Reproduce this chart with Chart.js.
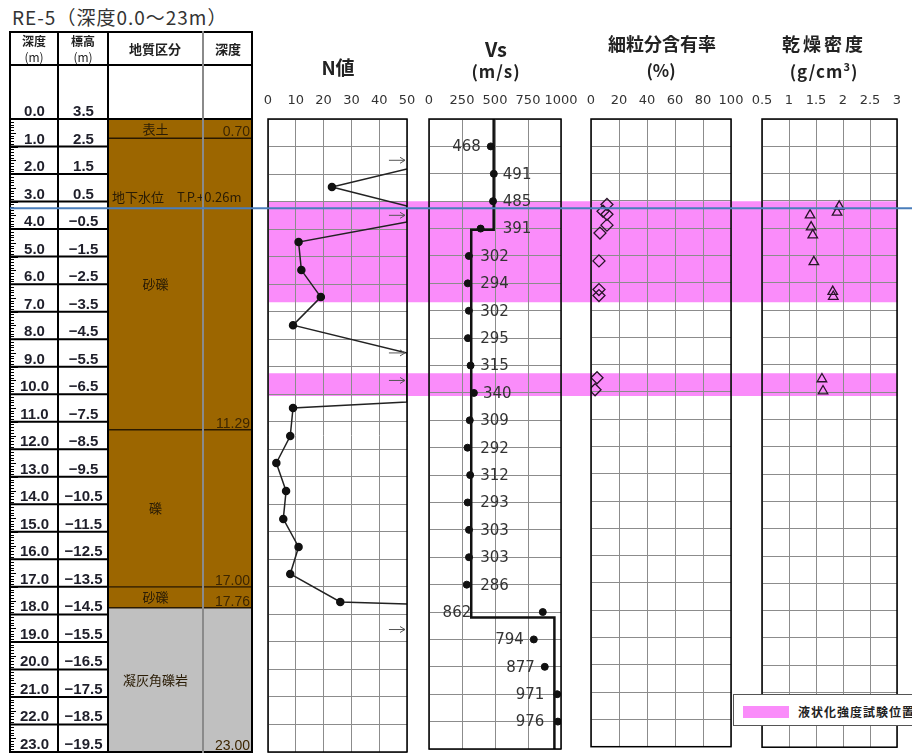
<!DOCTYPE html>
<html>
<head>
<meta charset="utf-8">
<script src="https://cdn.jsdelivr.net/npm/chart.js@4.4.1/dist/chart.umd.min.js"></script>
<style>
body{margin:0;width:912px;height:754px;overflow:hidden;position:relative;background:#fff;font-family:"Noto Sans CJK JP",sans-serif;color:#222;}
canvas{position:absolute;}
.ln{position:absolute;background:#000;}
.tx{position:absolute;transform:translate(-50%,-50%);white-space:nowrap;line-height:1;font-weight:bold;}
#legend{position:absolute;left:733px;top:694px;width:200px;height:32px;border:1px solid #555;background:#fff;box-sizing:border-box;}
#legend .sw{position:absolute;left:9px;top:11px;width:46px;height:12px;background:#fa8cfa;}
#legend .lb{position:absolute;left:64px;top:8px;font-size:12px;font-weight:bold;letter-spacing:1px;white-space:nowrap;}
</style>
</head>
<body>
<div style="position:absolute;left:12px;top:3px;font-size:19px;letter-spacing:1px;color:#333;">RE-5（深度0.0～23m）</div>

<canvas id="bands"></canvas>
<canvas id="table"></canvas>
<canvas id="geo"></canvas>
<canvas id="nChart"></canvas>
<canvas id="vsChart"></canvas>
<canvas id="fcChart"></canvas>
<canvas id="rhoChart"></canvas>

<!-- table frame -->
<div class="ln" style="left:10px;top:31px;width:243px;height:2px"></div>
<div class="ln" style="left:10px;top:64px;width:243px;height:1.5px"></div>
<div class="ln" style="left:108px;top:118px;width:145px;height:2px"></div>
<div class="ln" style="left:10px;top:751px;width:243px;height:2px"></div>
<div class="ln" style="left:9px;top:31px;width:2px;height:722px"></div>
<div class="ln" style="left:57px;top:31px;width:2px;height:722px"></div>
<div class="ln" style="left:107px;top:31px;width:2px;height:722px"></div>
<div class="ln" style="left:202px;top:31px;width:2px;height:722px;background:#8a8a8a"></div>
<div class="ln" style="left:251px;top:31px;width:2px;height:722px"></div>

<div class="tx" style="left:34px;top:41px;font-size:12px;">深度</div>
<div class="tx" style="left:34px;top:57px;font-size:12px;font-weight:normal;">(m)</div>
<div class="tx" style="left:83px;top:41px;font-size:12px;">標高</div>
<div class="tx" style="left:83px;top:57px;font-size:12px;font-weight:normal;">(m)</div>
<div class="tx" style="left:155px;top:48px;font-size:13px;">地質区分</div>
<div class="tx" style="left:228px;top:48px;font-size:13px;">深度</div>

<div class="tx" style="left:338px;top:66px;font-size:19px;">N値</div>
<div class="tx" style="left:496px;top:49px;font-size:20px;">Vs</div>
<div class="tx" style="left:496px;top:70px;font-size:17px;letter-spacing:1px;">(m/s)</div>
<div class="tx" style="left:662px;top:43px;font-size:18px;">細粒分含有率</div>
<div class="tx" style="left:661px;top:69px;font-size:17px;">(%)</div>
<div class="tx" style="left:824px;top:43px;font-size:18px;letter-spacing:3px;">乾燥密度</div>
<div class="tx" style="left:824px;top:70px;font-size:17px;letter-spacing:1px;">(g/cm<sup style="font-size:11px">3</sup>)</div>

<canvas id="gw"></canvas>

<div id="legend"><div class="sw"></div><div class="lb">液状化強度試験位置</div></div>

<script>
// ---- data ----
const rowDepths = [0,1,2,3,4,5,6,7,8,9,10,11,12,13,14,15,16,17,18,19,20,21,22,23];
const depthLabels = ['0.0','1.0','2.0','3.0','4.0','5.0','6.0','7.0','8.0','9.0','10.0','11.0','12.0','13.0','14.0','15.0','16.0','17.0','18.0','19.0','20.0','21.0','22.0','23.0'];
const elevLabels = ['3.5','2.5','1.5','0.5','−0.5','−1.5','−2.5','−3.5','−4.5','−5.5','−6.5','−7.5','−8.5','−9.5','−10.5','−11.5','−12.5','−13.5','−14.5','−15.5','−16.5','−17.5','−18.5','−19.5'];

const layerNames = ['表土','砂礫','礫','砂礫','凝灰角礫岩'];
const layerTop = [0, 0.70, 11.29, 17.00, 17.76];
const layerBottom = [0.70, 11.29, 17.00, 17.76, 23.00];
const layerColors = ['#9c6600','#9c6600','#9c6600','#9c6600','#c0c0c0'];

const surfaceElev = 3.5;
const gwElev = 0.26;

const bandTop = [3.0, 9.25];
const bandBottom = [6.65, 10.05];

const nDepth = [1.82, 2.47, 3.16, 3.74, 4.47, 5.49, 6.47, 7.49, 8.50, 10.28, 10.50, 11.52, 12.50, 13.52, 14.53, 15.55, 16.53, 17.55, 17.62];
const nValue = [50, 23, 50, 50, 11, 12, 19, 9, 50, 50, 9, 8, 3, 6.5, 5.5, 11, 8, 26, 50];
const nArrowDepth = [1.5, 3.5, 8.5, 9.5, 18.55];

const vsDepth = [1,2,3,4,5,6,7,8,9,10,11,12,13,14,15,16,17,18,19,20,21,22];
const vsValue = [468,491,485,391,302,294,302,295,315,340,309,292,312,293,303,303,286,862,794,877,971,976];
const vsLayerTop = [0, 4.04, 18.2];
const vsLayerVs = [490, 320, 950];

const fcDepth = [3.13, 3.38, 3.49, 3.89, 4.18, 5.2, 6.25, 6.47, 9.48, 9.92];
const fcValue = [11.4, 8.6, 11.4, 11.4, 6.4, 5.7, 5.7, 5.7, 4.3, 2.9];

const rhoDepth = [3.2, 3.42, 3.52, 3.96, 4.25, 5.23, 6.32, 6.5, 9.52, 9.96];
const rhoValue = [1.93, 1.89, 1.39, 1.41, 1.44, 1.46, 1.81, 1.82, 1.61, 1.63];

const nTicks = [0,10,20,30,40,50];
const vsTicks = [0,250,500,750,1000];
const fcTicks = [0,20,40,60,80,100];
const rhoTicks = [0.5,1,1.5,2,2.5,3];

// ---- layout ----
const TOP = 119, BOTTOM = 752, MAXD = 23;
const PXM = (BOTTOM - TOP) / MAXD;
const AXIS_H = 30, PAD = 32;
const GRID = '#8c8c8c';
const pink = '#fa8cfa';

function place(id, left, top, w, h) {
  const cv = document.getElementById(id);
  cv.width = w; cv.height = h;
  cv.style.left = left + 'px'; cv.style.top = top + 'px';
  return cv;
}
const base = {responsive:false, animation:false, events:[], plugins:{legend:{display:false}, tooltip:{enabled:false}}};

const framePlugin = {
  id:'frame',
  afterDraw(c) {
    const a = c.chartArea, ctx = c.ctx;
    ctx.save();
    ctx.strokeStyle = '#000'; ctx.lineWidth = 1.5;
    ctx.strokeRect(a.left, a.top, a.right - a.left, a.bottom - a.top);
    ctx.restore();
  }
};

function panel(id, left, right, xMin, xMax, ticks, datasets, extra) {
  const cv = place(id, left - PAD, TOP - AXIS_H, right - left + 2 * PAD, AXIS_H + (BOTTOM - TOP) + 2);
  return new Chart(cv, {
    type:'scatter',
    data:{datasets},
    options:Object.assign({}, base, {
      layout:{padding:{left:PAD, right:PAD, top:0, bottom:2}},
      scales:{
        x:{type:'linear', position:'top', min:xMin, max:xMax,
           afterFit:s => { s.height = AXIS_H; },
           afterBuildTicks:s => { s.ticks = ticks.map(v => ({value:v})); },
           ticks:{padding:11, color:'#333', font:{family:'DejaVu Sans', size:13}, maxRotation:0, autoSkip:false, callback:v => String(v)},
           grid:{color:GRID, lineWidth:1, drawTicks:false},
           border:{display:false}},
        y:{type:'linear', reverse:true, min:0, max:MAXD,
           afterFit:s => { s.width = 0; },
           afterBuildTicks:s => { s.ticks = rowDepths.map(v => ({value:v})); },
           ticks:{display:false},
           grid:{color:GRID, lineWidth:1, drawTicks:false},
           border:{display:false}}
      }
    }),
    plugins:[framePlugin].concat(extra || [])
  });
}

// liquefaction test bands (behind the panels)
new Chart(place('bands', 268, TOP, 629, BOTTOM - TOP), {
  type:'bar',
  data:{labels:[''], datasets: bandTop.map((t, i) => ({
    data:[[t, bandBottom[i]]], backgroundColor:pink, borderWidth:0,
    grouped:false, barPercentage:1, categoryPercentage:1
  }))},
  options:Object.assign({}, base, {
    layout:{padding:0},
    scales:{x:{display:false}, y:{display:false, reverse:true, min:0, max:MAXD}}
  })
});

// depth / elevation columns
const tableTopPx = 65;
new Chart(place('table', 10, tableTopPx, 98, BOTTOM - tableTopPx), {
  type:'scatter',
  data:{datasets:[]},
  options:Object.assign({}, base, {
    layout:{padding:0},
    scales:{x:{display:false, min:0, max:2}, y:{display:false, reverse:true, min:-(TOP - tableTopPx) / PXM, max:MAXD}}
  }),
  plugins:[{
    id:'rows',
    afterDraw(c) {
      const ctx = c.ctx, xs = c.scales.x, ys = c.scales.y;
      ctx.save();
      // ruler ticks
      ctx.strokeStyle = '#000'; ctx.lineWidth = 1;
      for (let k = 0; k <= MAXD * 10; k++) {
        const y = Math.round(ys.getPixelForValue(k / 10)) + 0.5;
        const len = k % 10 === 0 ? 8 : (k % 5 === 0 ? 6 : 4);
        ctx.beginPath(); ctx.moveTo(0, y); ctx.lineTo(len, y); ctx.stroke();
      }
      ctx.lineWidth = 2;
      rowDepths.forEach(d => {
        const y = ys.getPixelForValue(d);
        ctx.beginPath(); ctx.moveTo(xs.left, y); ctx.lineTo(xs.right, y); ctx.stroke();
      });
      ctx.fillStyle = '#1f1f2a';
      ctx.font = 'bold 15px "Liberation Sans"';
      ctx.textAlign = 'center'; ctx.textBaseline = 'alphabetic';
      rowDepths.forEach((d, i) => {
        const y = ys.getPixelForValue(d) - 3;
        ctx.fillText(depthLabels[i], xs.getPixelForValue(0.5), y);
        ctx.fillText(elevLabels[i], xs.getPixelForValue(1.5), y);
      });
      ctx.restore();
    }
  }]
});

// geology column
const gwDepth = surfaceElev - gwElev;
const GEO_NAME_W = 95;
new Chart(place('geo', 108, TOP, 144, BOTTOM - TOP), {
  type:'bar',
  data:{labels:[''], datasets: layerNames.map((n, i) => ({
    data:[[layerTop[i], layerBottom[i]]], backgroundColor:layerColors[i],
    borderColor:'#2b1a00', borderWidth:1, borderSkipped:false,
    grouped:false, barPercentage:1, categoryPercentage:1
  }))},
  options:Object.assign({}, base, {
    layout:{padding:0},
    scales:{x:{display:false}, y:{display:false, reverse:true, min:0, max:MAXD}}
  }),
  plugins:[{
    id:'geoText',
    afterDatasetsDraw(c) {
      const ctx = c.ctx, ys = c.scales.y, a = c.chartArea;
      const sep = a.left + GEO_NAME_W;
      ctx.save();
      ctx.strokeStyle = '#8a8a8a'; ctx.lineWidth = 2;
      ctx.beginPath(); ctx.moveTo(sep, a.top); ctx.lineTo(sep, a.bottom); ctx.stroke();
      ctx.fillStyle = '#2a1c05';
      ctx.font = '13px "Noto Sans CJK JP"';
      ctx.textAlign = 'center'; ctx.textBaseline = 'middle';
      layerNames.forEach((n, i) => {
        ctx.fillText(n, (a.left + sep) / 2, ys.getPixelForValue((layerTop[i] + layerBottom[i]) / 2));
      });
      ctx.font = '14px "Liberation Sans"';
      ctx.fillStyle = '#3d2600';
      ctx.textAlign = 'right'; ctx.textBaseline = 'alphabetic';
      layerBottom.forEach(d => {
        ctx.fillText(d.toFixed(2), a.right - 2, ys.getPixelForValue(d) - 2);
      });
      ctx.font = '13px "Noto Sans CJK JP"';
      ctx.fillStyle = '#2a1c05';
      ctx.textAlign = 'left';
      ctx.fillText('地下水位　T.P.+' + gwElev.toFixed(2) + 'm', a.left + 4, ys.getPixelForValue(gwDepth) - 6);
      ctx.restore();
    }
  }]
});

// N value
const arrowPlugin = {
  id:'arrows',
  afterDatasetsDraw(c) {
    const ctx = c.ctx, xs = c.scales.x, ys = c.scales.y;
    const xe = xs.getPixelForValue(50) - 2, xb = xs.getPixelForValue(43.5);
    ctx.save();
    ctx.strokeStyle = '#555'; ctx.lineWidth = 1;
    nArrowDepth.forEach(d => {
      const y = ys.getPixelForValue(d);
      ctx.beginPath();
      ctx.moveTo(xb, y); ctx.lineTo(xe, y);
      ctx.moveTo(xe - 5, y - 3); ctx.lineTo(xe, y); ctx.lineTo(xe - 5, y + 3);
      ctx.stroke();
    });
    ctx.restore();
  }
};
panel('nChart', 268, 407, 0, 50, nTicks, [{
  data:nDepth.map((d, i) => ({x:nValue[i], y:d})),
  showLine:true, borderColor:'#222', borderWidth:1.5,
  pointBackgroundColor:'#111', pointBorderColor:'#111',
  pointRadius:nValue.map(v => v >= 50 ? 0 : 3.5)
}], [arrowPlugin]);

// Vs
function layerVsAt(d) {
  let v = vsLayerVs[0];
  vsLayerTop.forEach((t, i) => { if (d >= t) v = vsLayerVs[i]; });
  return v;
}
const vsLabelPlugin = {
  id:'vsLabels',
  afterDatasetsDraw(c) {
    const ctx = c.ctx, xs = c.scales.x, ys = c.scales.y;
    ctx.save();
    ctx.fillStyle = '#333';
    ctx.font = '15px "DejaVu Sans"';
    ctx.textBaseline = 'middle';
    vsValue.forEach((v, i) => {
      const px = xs.getPixelForValue(v), lx = xs.getPixelForValue(layerVsAt(vsDepth[i]));
      const y = ys.getPixelForValue(vsDepth[i]) + 1;
      if (i === 0 || v > 700) {
        ctx.textAlign = 'right';
        ctx.fillText(String(v), Math.min(px, lx) - (px - lx > 30 ? 0 : 10), y);
      } else {
        ctx.textAlign = 'left';
        ctx.fillText(String(v), Math.max(px, lx) + 9, y);
      }
    });
    ctx.restore();
  }
};
const vsStep = vsLayerTop.map((t, i) => ({x:vsLayerVs[i], y:t}));
vsStep.push({x:vsLayerVs[vsLayerVs.length - 1], y:MAXD});
panel('vsChart', 429, 561, 0, 1000, vsTicks, [
  {data:vsStep, showLine:true, stepped:'after', borderColor:'#111', borderWidth:2.5, pointRadius:0},
  {data:vsDepth.map((d, i) => ({x:vsValue[i], y:d})), pointRadius:3.5, pointBackgroundColor:'#111', pointBorderColor:'#111'}
], [vsLabelPlugin]);

// fines content
panel('fcChart', 591, 731, 0, 100, fcTicks, [{
  data:fcDepth.map((d, i) => ({x:fcValue[i], y:d})),
  pointStyle:'rectRot', pointRadius:6, pointBorderColor:'#2a142a', pointBorderWidth:1.3,
  pointBackgroundColor:'rgba(0,0,0,0)'
}]);

// dry density
panel('rhoChart', 762, 897, 0.5, 3, rhoTicks, [{
  data:rhoDepth.map((d, i) => ({x:rhoValue[i], y:d})),
  pointStyle:'triangle', pointRadius:5.5, pointBorderColor:'#2a142a', pointBorderWidth:1.3,
  pointBackgroundColor:'rgba(0,0,0,0)'
}]);

// groundwater level line (on top)
new Chart(place('gw', 10, TOP, 902, BOTTOM - TOP), {
  type:'scatter',
  data:{datasets:[{data:[{x:0, y:gwDepth}, {x:1, y:gwDepth}], showLine:true, borderColor:'#4a7ebb', borderWidth:2, pointRadius:0}]},
  options:Object.assign({}, base, {
    layout:{padding:0},
    scales:{x:{display:false, min:0, max:1}, y:{display:false, reverse:true, min:0, max:MAXD}}
  })
});
</script>
</body>
</html>
